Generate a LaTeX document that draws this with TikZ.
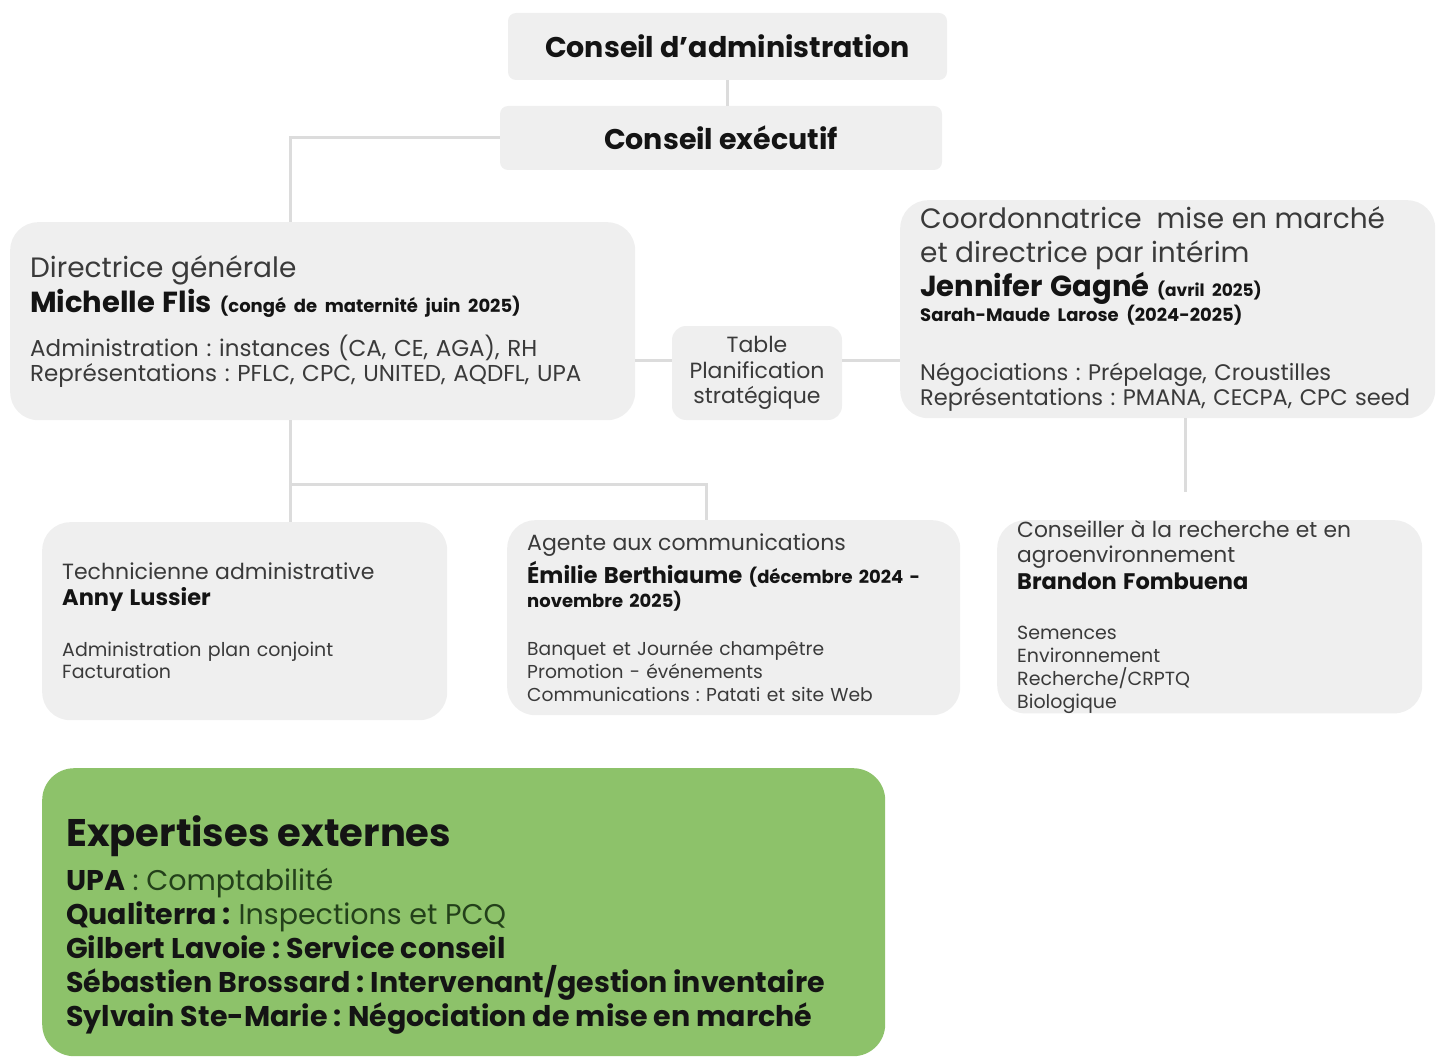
\documentclass[tikz,border=0pt]{standalone}
\usepackage{fontspec}
\setmainfont{Poppins}
\usepackage{xcolor}
\usetikzlibrary{calc, positioning}

\definecolor{boxgray}{HTML}{EFEFEF}
\definecolor{linegray}{HTML}{DCDCDC}
\definecolor{txtgray}{HTML}{3A3A3A}
\definecolor{namegray}{HTML}{141414}
\definecolor{expgreen}{HTML}{8DC26A}
\definecolor{leafgreen}{HTML}{23401A}

\newcommand{\fs}[2]{\fontsize{#1}{#2}\selectfont}
\newcommand{\nm}[1]{{\bfseries\color{namegray}#1}}
\frenchspacing
\setlength{\lineskiplimit}{-100pt}

\tikzset{
	unit/.style = {fill = boxgray, text = txtgray, inner sep = 0pt, inner xsep = 20pt, align = left, anchor = north west, rounded corners = 28pt},
	head/.style = {fill = boxgray, text = namegray, inner sep = 0pt, rounded corners = 8pt, font = \bfseries\fs{28.5}{30}},
	link/.style = {draw = linegray, line width = 3pt}
}

\begin{document}
\begin{tikzpicture}[x = 1pt, y = -1pt]
		\useasboundingbox (0,0) rectangle (1439,1059);

		\node (ca) [head, minimum width = 439pt, minimum height = 67pt] at (727.5,46.5) {Conseil d’administration};
		\node (ce) [head, minimum width = 442pt, minimum height = 64pt] at (721,138) {Conseil exécutif};

		\node (dg) [unit, text width = 585pt, minimum height = 198pt, font = \fs{23}{25}] at (10,222) {%
			{\fs{28}{25}Directrice générale}\\[4pt]
			{\fs{29}{25}\nm{Michelle Flis}} {\fs{18}{25}\nm{(congé de maternité juin 2025)}}\\[16pt]
			Administration : instances (CA, CE, AGA), RH\\
			Représentations : PFLC, CPC, UNITED, AQDFL, UPA};

		\node (tbl) [unit, inner xsep = 0pt, align = center, text width = 170pt, minimum height = 94pt, rounded corners = 14pt, anchor = center, font = \fs{22}{25.5}] at (757,373) {Table\\Planification\\stratégique};

		\node (coord) [unit, text width = 495pt, minimum height = 218pt, font = \fs{22.5}{25}] at (900,200) {%
			{\fs{28}{25}Coordonnatrice\ \ mise en marché}\\[9pt]
			{\fs{28}{25}et directrice par intérim}\\[2pt]
			{\fs{29}{25}\nm{Jennifer Gagné}} {\fs{17}{25}\nm{(avril 2025)}}\\[0pt]
			{\fs{18}{25}\nm{Sarah-Maude Larose (2024-2025)}}\\[34pt]
			Négociations : Prépelage, Croustilles\\
			Représentations : PMANA, CECPA, CPC seed};

		\node (tech) [unit, text width = 365pt, minimum height = 198pt, font = \fs{19}{22}] at (42,522) {%
			{\fs{22}{22}Technicienne administrative}\\[4pt]
			{\fs{22.5}{22}\nm{Anny Lussier}}\\[29pt]
			Administration plan conjoint\\
			Facturation};

		\node (agent) [unit, text width = 413pt, minimum height = 195pt, font = \fs{18.7}{23}] at (507,520) {%
			{\fs{22}{23}Agente aux communications}\\[3pt]
			{\fs{22.7}{23}\nm{Émilie Berthiaume}} {\fs{18}{23}\nm{(décembre 2024 -}}\\[1pt]
			{\fs{18}{23}\nm{novembre 2025)}}\\[25pt]
			Banquet et Journée champêtre\\
			Promotion - événements\\
			Communications : Patati et site Web};

		\node (cons) [unit, text width = 385pt, minimum height = 192pt, font = \fs{19}{23}] at (997,520) {%
			{\fs{21.8}{23}Conseiller à la recherche et en}\\[2pt]
			{\fs{21.8}{23}agroenvironnement}\\[4pt]
			{\fs{22.5}{23}\nm{Brandon Fombuena}}\\[27pt]
			Semences\\
			Environnement\\
			Recherche/CRPTQ\\
			Biologique};

		\node (ext) [unit, fill = expgreen, minimum width = 843pt, minimum height = 288pt, rounded corners = 32pt] at (42,768) {};
		\node (exttext) [below right = 47pt and 24pt of ext.north west, text = leafgreen, inner sep = 0pt, align = left, font = \fs{28.5}{34}] {%
			{\fs{38.5}{34}\nm{Expertises externes}}\\[10pt]
			\nm{UPA} : Comptabilité\\
			\nm{Qualiterra :} Inspections et PCQ\\
			\nm{Gilbert Lavoie : Service conseil}\\
			\nm{Sébastien Brossard : Intervenant/gestion inventaire}\\
			\nm{Sylvain Ste-Marie : Négociation de mise en marché}};

		\coordinate (mid) at (0,360);
		\coordinate (split) at (290,484);
		\coordinate (gap) at (1185,492);

		\draw [link] (ca.south) -- (ca.south |- ce.north);
		\draw [link] (ce.west) -| ($ (dg.north west) + (280,0) $);
		\draw [link] (dg.east |- mid) -- (tbl.west |- mid);
		\draw [link] (tbl.east |- mid) -- (coord.west |- mid);
		\draw [link] (split |- dg.south) -- (split |- tech.north);
		\draw [link] (split) -| ($ (agent.north west) + (199,0) $);
		\draw [link] (gap |- coord.south) -- (gap);
	\end{tikzpicture}
\end{document}
